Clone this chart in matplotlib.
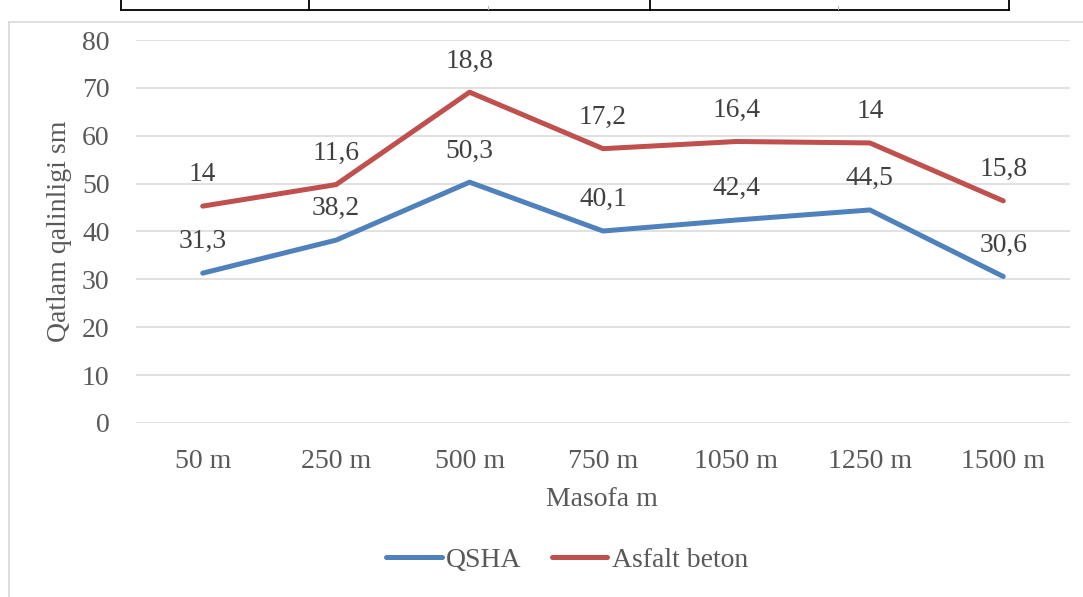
import matplotlib.pyplot as plt
from matplotlib.lines import Line2D
import numpy as np

plt.rcParams['font.family'] = ['Liberation Serif', 'DejaVu Serif']

# layer thickness along the road, sm
distances = ['50 m', '250 m', '500 m', '750 m', '1050 m', '1250 m', '1500 m']
qsha = [31.3, 38.2, 50.3, 40.1, 42.4, 44.5, 30.6]
asfalt = [14, 11.6, 18.8, 17.2, 16.4, 14, 15.8]

W, H = 1083, 597
fig = plt.figure(figsize=(W / 100, H / 100), dpi=100)
fig.patch.set_facecolor('white')


def px(x, y):
    # pixel position (from top-left) -> figure fraction
    return x / W, 1 - y / H


# chart area frame
fig.add_artist(Line2D([9 / W, 9 / W], [0, 1 - 22 / H], color='#D9D9D9', lw=1.2))
fig.add_artist(Line2D([9 / W, 1], [1 - 22 / H, 1 - 22 / H], color='#D9D9D9', lw=1.2))

# bottom edge of the table above
for x in [121, 309, 650, 1009]:
    fig.add_artist(Line2D([x / W, x / W], [1, 1 - 10 / H], color='black', lw=1.3))
fig.add_artist(Line2D([121 / W, 1009 / W], [1 - 9.5 / H, 1 - 9.5 / H], color='black', lw=1.3))
for x in [488, 838]:
    fig.add_artist(Line2D([x / W, x / W], [1 - 6 / H, 1 - 9 / H], color='#BBBBBB', lw=0.8))

ax = fig.add_axes([136 / W, 174 / H, 934 / W, 383 / H])
ax.set_facecolor('none')

x = np.arange(len(distances))
top = np.array(qsha) + np.array(asfalt)

ax.plot(x, qsha, color='#4F81BD', lw=3.6, solid_capstyle='round', solid_joinstyle='round', label='QSHA', zorder=3)
ax.plot(x, top, color='#C0504D', lw=3.6, solid_capstyle='round', solid_joinstyle='round', label='Asfalt beton', zorder=3)


def fmt(v):
    return f"{v:g}".replace('.', ',')


for xi, yb, v in zip(x, qsha, qsha):
    ax.annotate(fmt(v), (xi, yb), xytext=(0, 22.5), textcoords='offset points',
                ha='center', va='center', fontsize=19.8, color='#404040')
for xi, yt, v in zip(x, top, asfalt):
    ax.annotate(fmt(v), (xi, yt), xytext=(0, 22.5), textcoords='offset points',
                ha='center', va='center', fontsize=19.8, color='#404040')

ax.set_xlim(-0.5, len(distances) - 0.5)
ax.set_ylim(0, 80)
ax.set_yticks(range(0, 81, 10))
ax.set_xticks(x)
ax.set_xticklabels(distances)
ax.grid(axis='y', color='#D9D9D9', lw=1.1)
ax.set_axisbelow(True)
for s in ax.spines.values():
    s.set_visible(False)
ax.tick_params(length=0, labelsize=20, colors='#595959')
ax.tick_params(axis='y', pad=19)
ax.tick_params(axis='x', pad=19)

fig.text(*px(59, 231), 'Qatlam qalinligi sm', rotation=90, ha='center', va='center',
         fontsize=20, color='#595959')
fig.text(*px(602, 499), 'Masofa m', ha='center', va='center', fontsize=20, color='#595959')

ax.legend(loc='center', bbox_to_anchor=px(567, 560), bbox_transform=fig.transFigure,
          ncol=2, frameon=False, fontsize=20, labelcolor='#595959',
          handlelength=2.0, handletextpad=0.15, columnspacing=1.1)

fig.savefig('out.png', dpi=100)
